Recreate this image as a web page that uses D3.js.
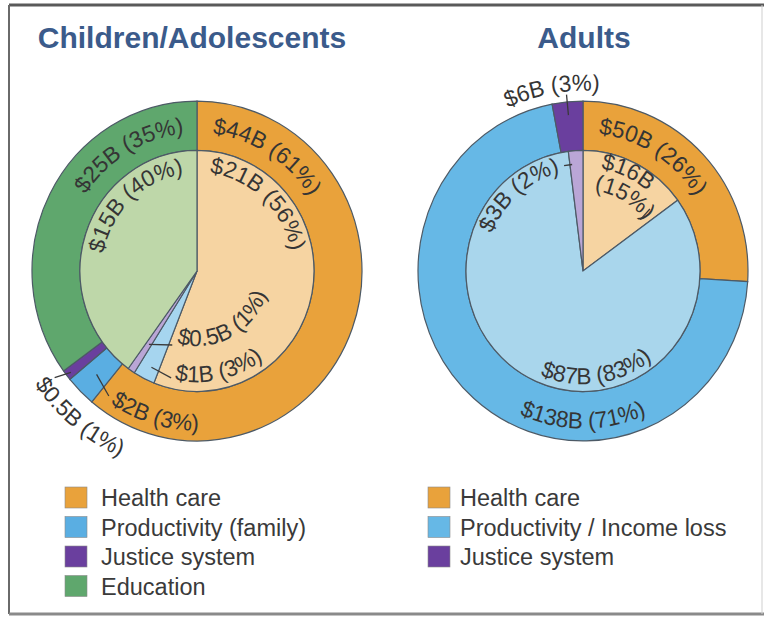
<!DOCTYPE html>
<html>
<head>
<meta charset="utf-8">
<script src="https://cdn.jsdelivr.net/npm/d3@7"></script>
<style>
  body { margin: 0; background: #fff; }
  text { font-family: "Liberation Sans", Arial, sans-serif; }
</style>
</head>
<body>
<svg id="chart" width="764" height="618"></svg>
<script>
// ---- data ----
const childCategories = ["Health care", "Productivity (family)", "Justice system", "Education"];
const childOuterCost = [44, 2, 0.5, 25];
const childOuterPct = [61, 3, 1, 35];
const childInnerCost = [21, 1, 0.5, 15];
const childInnerPct = [56, 3, 1, 40];

const adultCategories = ["Health care", "Productivity / Income loss", "Justice system"];
const adultOuterCost = [50, 138, 6];
const adultOuterPct = [26, 71, 3];
const adultInnerCost = [16, 87, 3];
const adultInnerPct = [15, 83, 2];

const colorKeys = ["Health care", "Productivity (family)", "Productivity / Income loss", "Justice system", "Education"];
const darkColor = d3.scaleOrdinal().domain(colorKeys)
    .range(["#e9a23b", "#5aaee2", "#66b8e6", "#6a3f9e", "#5fa76d"]);
const lightColor = d3.scaleOrdinal().domain(colorKeys)
    .range(["#f6d4a2", "#a6d5ef", "#a9d6ec", "#baa6d6", "#bed7a9"]);

const svg = d3.select("#chart");
const deg = Math.PI / 180;
const R_OUT = 165, R_IN = 117;
const LABEL_SIZE = 22.5;

// frame
svg.append("line").attr("x1", 9).attr("x2", 764).attr("y1", 5).attr("y2", 5).attr("stroke", "#5a5a5a").attr("stroke-width", 3);
svg.append("line").attr("x1", 9).attr("x2", 9).attr("y1", 5).attr("y2", 614).attr("stroke", "#6a6a6a").attr("stroke-width", 2);
svg.append("line").attr("x1", 9).attr("x2", 764).attr("y1", 614).attr("y2", 614).attr("stroke", "#8a8a8a").attr("stroke-width", 3);
svg.append("line").attr("x1", 762).attr("x2", 762).attr("y1", 5).attr("y2", 614).attr("stroke", "#cfcfcf").attr("stroke-width", 1);

function polar(r, a) {
    return [r * Math.sin(a * deg), -r * Math.cos(a * deg)];
}

let pathId = 0;
function arcText(g, txt, r, a, dir, anchor) {
    // a = centre angle (anchor middle) or start angle (anchor start), degrees clockwise from 12 o'clock
    let a0, a1;
    if (anchor === "start") {
        a0 = a;
        a1 = dir === "cw" ? a + 170 : a - 170;
    } else {
        a0 = dir === "cw" ? a - 85 : a + 85;
        a1 = dir === "cw" ? a + 85 : a - 85;
    }
    const p0 = polar(r, a0), p1 = polar(r, a1);
    const id = "lp" + (pathId++);
    g.append("path").attr("id", id).attr("fill", "none")
        .attr("d", `M${p0[0]},${p0[1]} A${r},${r} 0 0 ${dir === "cw" ? 1 : 0} ${p1[0]},${p1[1]}`);
    g.append("text")
        .attr("font-size", LABEL_SIZE)
        .attr("fill", "#353535")
        .attr("text-anchor", anchor === "start" ? "start" : "middle")
        .append("textPath")
        .attr("href", "#" + id)
        .attr("startOffset", anchor === "start" ? "0%" : "50%")
        .text(txt);
}

function leader(g, l) {
    const p0 = polar(l.r0, l.a0), p1 = polar(l.r1, l.a1);
    g.append("line").attr("x1", p0[0]).attr("y1", p0[1]).attr("x2", p1[0]).attr("y2", p1[1])
        .attr("stroke", "#3a3a3a").attr("stroke-width", 1.3);
}

const fmt = (c, p) => `$${c}B (${p}%)`;

function drawNested(cfg) {
    const g = svg.append("g").attr("transform", `translate(${cfg.cx},${cfg.cy}) scale(1,1.03)`);
    const pie = d3.pie().sort(null).value(d => d.pct);
    const outer = pie(cfg.categories.map((c, i) => ({ cat: c, pct: cfg.outerPct[i], cost: cfg.outerCost[i] })));
    const inner = pie(cfg.categories.map((c, i) => ({ cat: c, pct: cfg.innerPct[i], cost: cfg.innerCost[i] })));
    const outerArc = d3.arc().innerRadius(R_IN).outerRadius(R_OUT);
    const innerArc = d3.arc().innerRadius(0).outerRadius(R_IN);

    g.selectAll("path.outer").data(outer).join("path")
        .attr("class", "outer")
        .attr("d", outerArc)
        .attr("fill", d => darkColor(d.data.cat))
        .attr("stroke", "#4d5a66").attr("stroke-width", 1.2);
    g.selectAll("path.inner").data(inner).join("path")
        .attr("class", "inner")
        .attr("d", innerArc)
        .attr("fill", d => lightColor(d.data.cat))
        .attr("stroke", "#4d5a66").attr("stroke-width", 1.2);

    cfg.labels.forEach(l => {
        const d = (l.ring === "outer" ? outer : inner)[l.i].data;
        const txt = l.part === 1 ? `$${d.cost}B` : l.part === 2 ? `(${d.pct}%)` : fmt(d.cost, d.pct);
        arcText(g, txt, l.r, l.a, l.dir, l.anchor);
    });
    cfg.leaders.forEach(l => leader(g, l));

    svg.append("text")
        .attr("x", cfg.titleX).attr("y", 48)
        .attr("text-anchor", "middle")
        .attr("font-size", 30).attr("font-weight", 700)
        .attr("fill", "#3b5b8b")
        .text(cfg.title);

    const leg = svg.append("g").attr("transform", `translate(${cfg.legendX},487)`);
    const rows = leg.selectAll("g").data(cfg.categories).join("g")
        .attr("transform", (d, i) => `translate(0,${i * 29.5})`);
    rows.append("rect").attr("width", 22).attr("height", 21)
        .attr("fill", d => darkColor(d)).attr("stroke", "#8a8a8a").attr("stroke-width", 0.6);
    rows.append("text").attr("x", cfg.legendTextDx).attr("y", 19)
        .attr("font-size", 23.5).attr("fill", "#3a3a3a")
        .text(d => d);
}

drawNested({
    title: "Children/Adolescents", titleX: 192,
    cx: 197, cy: 271,
    categories: childCategories,
    outerCost: childOuterCost, outerPct: childOuterPct,
    innerCost: childInnerCost, innerPct: childInnerPct,
    legendX: 65, legendTextDx: 36,
    labels: [
        { ring: "outer", i: 0, r: 134, a: 32, dir: "cw" },
        { ring: "outer", i: 3, r: 134, a: 329, dir: "cw" },
        { ring: "inner", i: 0, r: 96, a: 43, dir: "cw" },
        { ring: "inner", i: 3, r: 95, a: 316, dir: "cw" },
        { ring: "inner", i: 2, r: 73, a: 196, dir: "ccw", anchor: "start" },
        { ring: "inner", i: 1, r: 108, a: 192, dir: "ccw", anchor: "start" },
        { ring: "outer", i: 1, r: 155, a: 214, dir: "ccw", anchor: "start" },
        { ring: "outer", i: 2, r: 196, a: 236, dir: "ccw", anchor: "start" }
    ],
    leaders: [
        { r0: 86, a0: 214, r1: 76, a1: 199 },
        { r0: 104, a0: 206, r1: 107, a1: 194 },
        { r0: 142, a0: 225, r1: 150, a1: 216 },
        { r0: 160, a0: 232, r1: 176, a1: 234 }
    ]
});

drawNested({
    title: "Adults", titleX: 584,
    cx: 583, cy: 271,
    categories: adultCategories,
    outerCost: adultOuterCost, outerPct: adultOuterPct,
    innerCost: adultInnerCost, innerPct: adultInnerPct,
    legendX: 428, legendTextDx: 32,
    labels: [
        { ring: "outer", i: 2, r: 175, a: 350, dir: "cw" },
        { ring: "outer", i: 0, r: 134, a: 32, dir: "cw" },
        { ring: "inner", i: 0, r: 101, a: 25, dir: "cw", part: 1 },
        { ring: "inner", i: 0, r: 79, a: 30, dir: "cw", part: 2 },
        { ring: "inner", i: 2, r: 98, a: 319, dir: "cw" },
        { ring: "inner", i: 1, r: 110, a: 172, dir: "ccw" },
        { ring: "outer", i: 1, r: 153, a: 180, dir: "ccw" }
    ],
    leaders: [
        { r0: 152, a0: 354.5, r1: 172, a1: 354.5 },
        { r0: 104, a0: 349.5, r1: 104, a1: 354 },
        { r0: 76, a0: 49, r1: 90, a1: 48 }
    ]
});
</script>
</body>
</html>
